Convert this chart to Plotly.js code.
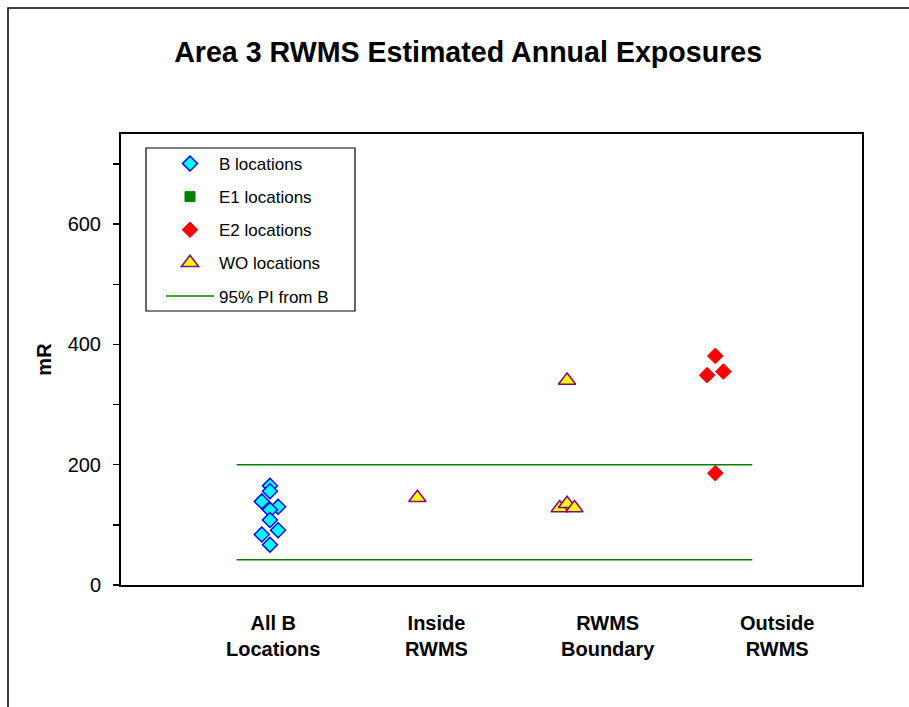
<!DOCTYPE html>
<html>
<head>
<meta charset="utf-8">
<script src="https://cdn.plot.ly/plotly-3.0.1.min.js"></script>
<style>html,body{margin:0;padding:0;background:#fff;}#chart{width:909px;height:707px;}</style>
</head>
<body>
<div id="chart"></div>
<script>
// Category labels
var categories = ["All B<br>Locations", "Inside<br>RWMS", "RWMS<br>Boundary", "Outside<br>RWMS"];

// B locations (diamonds) — x includes small horizontal offsets as in the original
var bX = [1.005, 1.005, 0.95, 1.06, 1.005, 1.005, 0.95, 1.06, 1.005];
var bY = [165, 156, 139, 130, 125, 108, 84, 91, 67];

// E1 locations (no points, legend only)
var e1X = [null];
var e1Y = [null];

// E2 locations
var e2X = [4.01, 3.955, 4.065, 4.01];
var e2Y = [381, 349, 355, 186];

// WO locations
var woX = [2.0, 3.01, 2.96, 3.01, 3.06];
var woY = [145, 340, 128, 135, 128];

// 95% prediction interval from B
var piX = [0.78, 4.26];
var piUpper = 200;
var piLower = 42;

var FONT = "Liberation Sans, Arial, sans-serif";

var traces = [
  {x: bX, y: bY, type: "scatter", mode: "markers", name: "B locations", legendgroup: "b",
   marker: {symbol: "diamond", size: 11.5, color: "#00FFFF", line: {color: "#0000FF", width: 1.5}}},
  {x: e1X, y: e1Y, type: "scatter", mode: "markers", name: "E1 locations", legendgroup: "e1",
   marker: {symbol: "square", size: 10, color: "#008000", line: {color: "#008000", width: 1}}},
  {x: e2X, y: e2Y, type: "scatter", mode: "markers", name: "E2 locations", legendgroup: "e2",
   marker: {symbol: "diamond", size: 12, color: "#FF0000", line: {color: "#FF0000", width: 1}}},
  {x: woX, y: woY, type: "scatter", mode: "markers", name: "WO locations", legendgroup: "wo",
   marker: {symbol: "triangle-up", size: 15, color: "#FFFF00", line: {color: "#800080", width: 1.5}}},
  {x: piX.concat([null]).concat(piX), y: [piUpper, piUpper, null, piLower, piLower],
   type: "scatter", mode: "lines", name: "95% PI from B", legendgroup: "pi",
   line: {color: "#008000", width: 1.5}}
];

// Plot area in pixels: left 121, right 862, top 134, bottom 585
var PL = 121, PR = 862, PT = 134, PB = 585;
function px2x(p) { return (p - PL) / (PR - PL); }
function px2y(p) { return (PB - p) / (PB - PT); }

var labelCentersPx = [273, 436, 608, 777];
var annotations = categories.map(function (c, i) {
  return {text: "<b>" + c + "</b>", xref: "paper", yref: "paper", x: px2x(labelCentersPx[i]), y: px2y(636),
          xanchor: "center", yanchor: "middle", showarrow: false, align: "center",
          font: {size: 20, family: FONT, color: "#000"}};
});

var layout = {
  width: 909, height: 707,
  paper_bgcolor: "#ffffff", plot_bgcolor: "#ffffff",
  font: {family: FONT, color: "#000"},
  margin: {l: PL, r: 909 - PR, t: PT, b: 707 - PB},
  title: {text: "<b>Area 3 RWMS Estimated Annual Exposures</b>", font: {size: 28.6, family: FONT, color: "#000"},
          x: 0.515, xanchor: "center", xref: "container", y: 0.926, yanchor: "middle", yref: "container"},
  showlegend: true,
  legend: {x: px2x(161), xanchor: "left", y: px2y(146), yanchor: "top", bgcolor: "rgba(0,0,0,0)",
           borderwidth: 0, font: {size: 17, family: FONT, color: "#000"},
           itemwidth: 48, tracegroupgap: 8, traceorder: "grouped", itemclick: false},
  xaxis: {range: [0, 5], showticklabels: false, showgrid: false, zeroline: false,
          ticks: "", showline: true, linecolor: "#000", linewidth: 2, mirror: true, fixedrange: true},
  yaxis: {range: [0, 750], dtick: 200, tick0: 0, showgrid: false, zeroline: false,
          ticks: "outside", ticklen: 6, tickwidth: 1.5, tickcolor: "#000",
          minor: {dtick: 100, ticks: "outside", ticklen: 6, tickwidth: 1.5, tickcolor: "#000"},
          showline: true, linecolor: "#000", linewidth: 2, mirror: true,
          tickfont: {size: 20, family: FONT, color: "#000"}, ticklabelstandoff: 8,
          title: {text: "<b>mR</b>", font: {size: 20, family: FONT, color: "#000"}, standoff: 11},
          fixedrange: true},
  annotations: annotations,
  shapes: [
    {type: "rect", xref: "paper", yref: "paper", x0: -0.1525, x1: 2, y0: -1, y1: 1.2794,
     line: {color: "#000", width: 1.5}, fillcolor: "rgba(0,0,0,0)", layer: "below"},
    {type: "rect", xref: "paper", yref: "paper", x0: px2x(146), x1: px2x(355), y0: px2y(311), y1: px2y(148),
     line: {color: "#000", width: 1.2}, fillcolor: "#ffffff", layer: "above"}
  ]
};

Plotly.newPlot("chart", traces, layout, {displayModeBar: false, staticPlot: true});
</script>
</body>
</html>
